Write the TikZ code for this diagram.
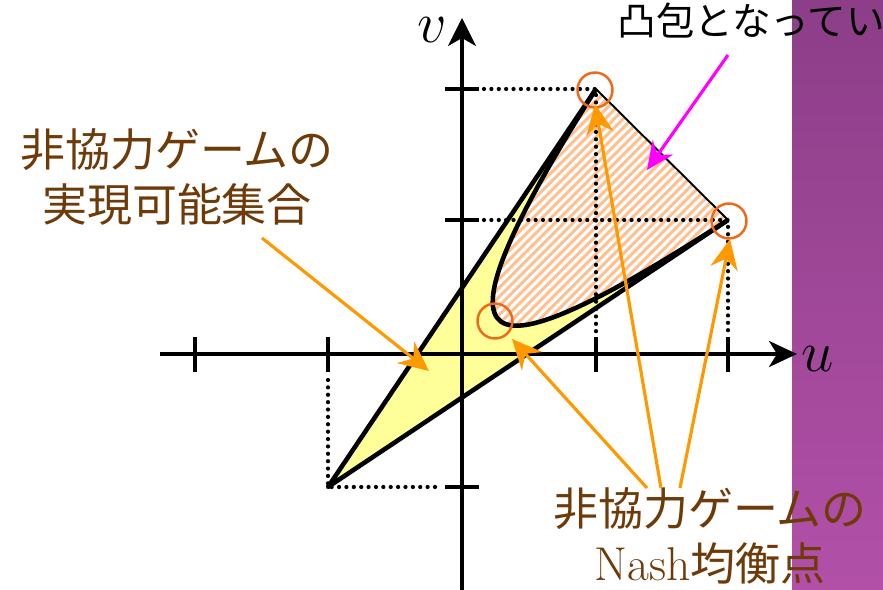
\RequirePackage{fix-cm}
\documentclass[tikz,border=0pt]{standalone}
\usepackage{fontspec}
\newfontfamily\jp{Noto Sans CJK JP}
\usetikzlibrary{arrows.meta}
\definecolor{brn}{RGB}{110,58,8}
\definecolor{purpT}{RGB}{140,62,136}
\definecolor{purpB}{RGB}{178,80,168}
\definecolor{yel}{RGB}{255,255,153}
\definecolor{stripe}{RGB}{255,192,145}
\definecolor{eqorange}{RGB}{240,105,25}
\definecolor{arrorange}{RGB}{255,153,0}
\definecolor{mag}{RGB}{255,0,255}
\begin{document}
\begin{tikzpicture}[x=0.02cm,y=-0.02cm,
  ax/.style={line width=2pt},
  dotl/.style={line width=2.4pt,dash pattern=on 0pt off 4.2pt,line cap=round},
  bound/.style={line width=2.6pt,line join=round},
  eqc/.style={circle,draw=eqorange,line width=1.4pt,minimum size=0.7cm,inner sep=0pt},
  oarr/.style={draw=arrorange,line width=1.8pt,-{Stealth[length=0.6cm,width=0.55cm,inset=0.2cm]}},
  marr/.style={draw=mag,line width=1.8pt,-{Stealth[length=0.55cm,width=0.5cm,inset=0.18cm]}},
  jpt/.style={font=\jp\fontsize{25.6}{31}\selectfont,text=brn,align=center,inner sep=0pt},
  axlab/.style={font=\fontsize{33}{33}\selectfont,inner sep=0pt},
]
\useasboundingbox (0,0) rectangle (883,590);
% purple band
\shade[top color=purpT,bottom color=purpB] (792,0) rectangle (883,590);
% key points
\coordinate (P) at (328,487);
\coordinate (Q) at (596,89);
\coordinate (R) at (728,220);
\coordinate (O) at (462,354);
% yellow feasible set
\fill[yel] (P) -- (Q) -- (R) -- cycle;
% hatched convex region
\fill[white] (Q) .. controls (415,375) and (480,380) .. (R) -- cycle;
\begin{scope}
  \clip (Q) .. controls (415,375) and (480,380) .. (R) -- cycle;
  \foreach \s in {670,679,...,970}
    \draw[stripe,line width=1.8pt] (\s,0) -- ({\s-600},600);
\end{scope}
% dotted guides
\draw[dotl] (328,380) -- (P) -- (440,487);
\draw[dotl] (484,89) -- (Q) -- (596,332);
\draw[dotl] (484,220) -- (R) -- (728,332);
% axes
\coordinate (xs) at (160,354);
\coordinate (xe) at (797,354);
\coordinate (ys) at (462,592);
\coordinate (ye) at (462,18);
\draw[ax,-{Stealth[length=0.56cm,width=0.52cm,inset=0.16cm]}] (xs) -- (xe);
\draw[ax,-{Stealth[length=0.56cm,width=0.56cm,inset=0.16cm]}] (ys) -- (ye);
\foreach \x in {195,328,596,728} \draw[ax] (\x,337) -- (\x,372);
\foreach \y in {89,220,487} \draw[ax] (445,\y) -- (479,\y);
\node[axlab] (ulab) at (818,359) {$u$};
\node[axlab] (vlab) at (432,30) {$v$};
% boundaries
\draw[bound] (Q) -- (P) -- (R);
\draw[bound] (Q) .. controls (415,375) and (480,380) .. (R);
\draw[line width=1.1pt] (Q) -- (R);
% Nash equilibria
\node[eqc] (e1) at (595,90) {};
\node[eqc] (e2) at (729,221) {};
\node[eqc] (e3) at (495,321) {};
% texts
\node[jpt] (feas) at (177,177) {非協力ゲームの\\実現可能集合};
\node[jpt] (nash) at (710,536) {非協力ゲームの\\{\rmfamily\fontsize{27}{31}\selectfont Nash}均衡点};
\node[anchor=west,inner sep=0pt,font=\jp\fontsize{22}{24}\selectfont] (convex) at (617,21) {凸包となってい};
% arrows
\coordinate (f1) at (262,238);
\coordinate (t1) at (429,371);
\coordinate (n1) at (647,488);
\coordinate (t2) at (512,339);
\coordinate (n2) at (661,488);
\coordinate (t3) at (595,104);
\coordinate (n3) at (680,488);
\coordinate (t4) at (730,239);
\coordinate (c1) at (728,55);
\coordinate (t5) at (647,170);
\draw[oarr] (f1) -- (t1);
\draw[oarr] (n1) -- (t2);
\draw[oarr] (n2) -- (t3);
\draw[oarr] (n3) -- (t4);
\draw[marr] (c1) -- (t5);
\end{tikzpicture}
\end{document}
